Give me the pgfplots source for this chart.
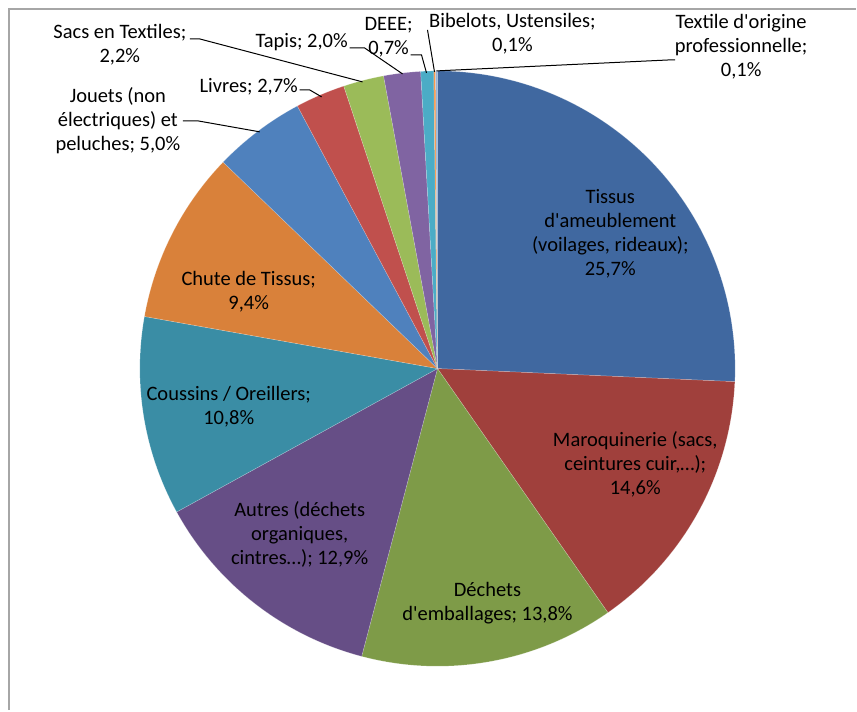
\documentclass[border=0pt]{standalone}
\usepackage{pgfplots}
\pgfplotsset{compat=1.18}
\usepackage{pgfplotstable}
\usepackage{fontspec}
\setmainfont{Carlito}[Ligatures=TeXOff]

\definecolor{cTissus}{HTML}{4068A0}
\definecolor{cMaroq}{HTML}{A0403C}
\definecolor{cDechets}{HTML}{7E9B48}
\definecolor{cAutres}{HTML}{664E86}
\definecolor{cCoussins}{HTML}{3A8DA5}
\definecolor{cChute}{HTML}{D9813A}
\definecolor{cJouets}{HTML}{4F81BD}
\definecolor{cLivres}{HTML}{C0504D}
\definecolor{cSacs}{HTML}{9BBB59}
\definecolor{cTapis}{HTML}{8064A2}
\definecolor{cDEEE}{HTML}{4BACC6}
\definecolor{cBibelots}{HTML}{F79646}
\definecolor{cTextPro}{HTML}{95B3D7}
\definecolor{cadre}{HTML}{A6A6A6}

% parts en %, dans le sens horaire depuis midi
\pgfplotstableread[col sep=comma]{
valeur,couleur
25.7,cTissus
14.6,cMaroq
13.8,cDechets
12.9,cAutres
10.8,cCoussins
9.4,cChute
5.0,cJouets
2.7,cLivres
2.2,cSacs
2.0,cTapis
0.7,cDEEE
0.1,cBibelots
0.1,cTextPro
}\repartition

\tikzset{lab/.style={align=center, text=black, inner sep=0pt}}

\begin{document}
\begin{tikzpicture}[font=\fontsize{20.5}{24}\selectfont]
\begin{axis}[
  x=1pt, y=1pt,
  xmin=0, xmax=857, ymin=0, ymax=711,
  hide axis,
  clip=false,
]
  \path (axis cs:0,0) rectangle (axis cs:857,711);

  \pgfplotstablegetrowsof{\repartition}
  \pgfmathtruncatemacro\derniere{\pgfplotsretval-1}
  \def\cumul{0}
  \pgfplotsforeachungrouped \i in {0,...,\derniere}{%
    \pgfplotstablegetelem{\i}{valeur}\of\repartition
    \let\val\pgfplotsretval
    \pgfplotstablegetelem{\i}{couleur}\of\repartition
    \let\coul\pgfplotsretval
    \pgfmathsetmacro\debut{90-3.6*\cumul}
    \pgfmathsetmacro\cumul{\cumul+\val}
    \pgfmathsetmacro\fin{90-3.6*\cumul}
    \edef\secteur{\noexpand\fill[\coul, draw=white, draw opacity=0.3, line width=0.5pt]
      (axis cs:438,342) -- ++(\debut:298pt)
      arc[start angle=\debut, end angle=\fin, radius=298pt] -- cycle;}
    \secteur
  }

  % cadre
  \draw[cadre, line width=2pt] (axis cs:9.5,0) -- (axis cs:9.5,701.5) -- (axis cs:857,701.5);

  % étiquettes intérieures
  \node[lab] at (axis cs:611,477) {Tissus\\d'ameublement\\(voilages, rideaux);\\25,7\%};
  \node[lab] at (axis cs:636,246) {Maroquinerie (sacs,\\ceintures cuir,…);\\14,6\%};
  \node[lab] at (axis cs:488,107) {Déchets\\d'emballages; 13,8\%};
  \node[lab] at (axis cs:300,176) {Autres (déchets\\organiques,\\cintres…); 12,9\%};
  \node[lab] at (axis cs:229,304) {Coussins / Oreillers;\\10,8\%};
  \node[lab] at (axis cs:249,419) {Chute de Tissus;\\9,4\%};

  % étiquettes extérieures
  \node[lab] at (axis cs:120,666) {Sacs en Textiles;\\2,2\%};
  \node[lab] at (axis cs:118,590) {Jouets (non\\électriques) et\\peluches; 5,0\%};
  \node[lab] at (axis cs:249,624) {Livres; 2,7\%};
  \node[lab] at (axis cs:302,669) {Tapis; 2,0\%};
  \node[lab] at (axis cs:389,674) {DEEE;\\0,7\%};
  \node[lab] at (axis cs:513,677) {Bibelots, Ustensiles;\\0,1\%};
  \node[lab] at (axis cs:742,664) {Textile d'origine\\professionnelle;\\0,1\%};

  % lignes de rappel
  \begin{scope}[black, line width=1pt]
    \draw (axis cs:190,672) -- (axis cs:200,672) -- (axis cs:363,629);
    \draw (axis cs:183,590) -- (axis cs:198,590) -- (axis cs:260,579);
    \draw (axis cs:300,621) -- (axis cs:310,621) -- (axis cs:322,614);
    \draw (axis cs:350,663) -- (axis cs:365,663) -- (axis cs:403,637);
    \draw (axis cs:411,656) -- (axis cs:422,656) -- (axis cs:427,638);
    \draw (axis cs:428,681) -- (axis cs:435,639);
    \draw (axis cs:437,640) -- (axis cs:670,651) -- (axis cs:676,651);
  \end{scope}
\end{axis}
\end{tikzpicture}
\end{document}
